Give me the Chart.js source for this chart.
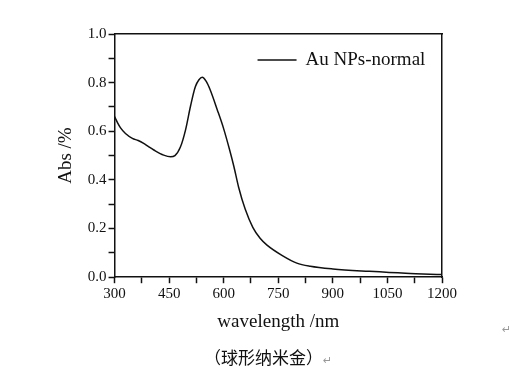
<!DOCTYPE html>
<html>
<head>
<meta charset="utf-8">
<script src="https://cdn.jsdelivr.net/npm/chart.js@4"></script>
<style>
  html, body { margin: 0; padding: 0; background: #fff; }
  #wrap { position: relative; width: 524px; height: 377px; }
  #caption { position: absolute; left: 204px; top: 344px; font: 17px "Noto Sans CJK SC"; color: #111; white-space: nowrap; }
  .mark { color: #999; font: 11px "DejaVu Sans"; }
  #mark1 { position: absolute; left: 502px; top: 323px; }
</style>
</head>
<body>
<div id="wrap">
  <canvas id="chart" width="524" height="377"></canvas>
  <div id="caption">（球形纳米金）<span class="mark">↵</span></div>
  <div id="mark1" class="mark">↵</div>
</div>
<script>
// UV-vis spectrum
const wavelengths = [300, 308, 316, 330, 349, 365, 380, 394, 408, 435, 454, 466, 481, 495, 509, 522, 532, 541, 552, 563, 582, 600, 616, 628, 641, 659, 680, 700, 719, 760, 801, 838, 900, 1000, 1100, 1200];
const absorbance = [0.66, 0.636, 0.615, 0.591, 0.571, 0.562, 0.55, 0.536, 0.523, 0.502, 0.495, 0.5, 0.535, 0.605, 0.705, 0.783, 0.812, 0.822, 0.805, 0.77, 0.69, 0.61, 0.525, 0.455, 0.37, 0.28, 0.205, 0.16, 0.132, 0.09, 0.058, 0.045, 0.034, 0.024, 0.016, 0.011];
const seriesName = 'Au NPs-normal';

const serif = 'Liberation Serif';

// legend sits inside the frame, top right, like the original figure
const insideLegend = {
  id: 'insideLegend',
  afterDraw(chart) {
    const { ctx, chartArea } = chart;
    const ds = chart.data.datasets[0];
    const x = chartArea.left + 143;
    const y = chartArea.top + 26;
    ctx.save();
    ctx.strokeStyle = ds.borderColor;
    ctx.lineWidth = ds.borderWidth;
    ctx.beginPath();
    ctx.moveTo(x, y);
    ctx.lineTo(x + 39, y);
    ctx.stroke();
    ctx.fillStyle = '#111';
    ctx.font = `19px "${serif}"`;
    ctx.textBaseline = 'middle';
    ctx.fillText(ds.label, x + 48, y);
    ctx.restore();
  }
};

new Chart(document.getElementById('chart'), {
  type: 'line',
  data: {
    datasets: [{
      label: seriesName,
      data: wavelengths.map((w, i) => ({ x: w, y: absorbance[i] })),
      borderColor: '#111',
      borderWidth: 1.5,
      pointRadius: 0,
      cubicInterpolationMode: 'monotone',
      fill: false,
    }]
  },
  plugins: [insideLegend],
  options: {
    responsive: false,
    animation: false,
    layout: { padding: { left: 55, right: 82, top: 34, bottom: 44 } },
    plugins: {
      tooltip: { enabled: false },
      legend: { display: false }
    },
    scales: {
      x: {
        type: 'linear',
        min: 300, max: 1200,
        ticks: {
          stepSize: 75,
          autoSkip: false,
          maxRotation: 0,
          padding: 2,
          color: '#111',
          font: { family: serif, size: 15 },
          callback: v => (v % 150 === 0 ? String(v) : ''),
        },
        grid: { drawOnChartArea: false, tickLength: 6, tickColor: '#111', tickWidth: 1.5 },
        border: { color: '#111', width: 1.5 },
        title: { display: true, text: 'wavelength /nm', color: '#111', font: { family: serif, size: 19 }, padding: { top: 5, bottom: 0 } },
      },
      y: {
        min: 0, max: 1,
        ticks: {
          stepSize: 0.1,
          autoSkip: false,
          padding: 2,
          color: '#111',
          font: { family: serif, size: 15 },
          callback: v => (Math.round(v * 10) % 2 === 0 ? v.toFixed(1) : ''),
        },
        grid: { drawOnChartArea: false, tickLength: 6, tickColor: '#111', tickWidth: 1.5 },
        border: { color: '#111', width: 1.5 },
        title: { display: true, text: 'Abs /%', color: '#111', font: { family: serif, size: 19 }, padding: { top: 0, bottom: 8 } },
      },
      x2: {
        type: 'linear', position: 'top', min: 300, max: 1200,
        ticks: { display: false },
        grid: { drawOnChartArea: false, drawTicks: false },
        border: { color: '#111', width: 1.5 },
      },
      y2: {
        position: 'right', min: 0, max: 1,
        ticks: { display: false },
        grid: { drawOnChartArea: false, drawTicks: false },
        border: { color: '#111', width: 1.5 },
      }
    }
  }
});
</script>
</body>
</html>
